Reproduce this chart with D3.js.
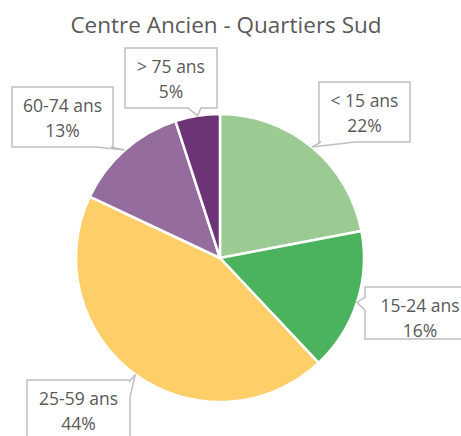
<!DOCTYPE html>
<html>
<head>
<meta charset="utf-8">
<script src="https://cdn.jsdelivr.net/npm/d3@7"></script>
<style>
  body { margin: 0; background: #fff; }
  svg { display: block; }
</style>
</head>
<body>
<div id="chart"></div>
<script>
// data
const title = "Centre Ancien - Quartiers Sud";
const categories = ["< 15 ans", "15-24 ans", "25-59 ans", "60-74 ans", "> 75 ans"];
const values = [22, 16, 44, 13, 5];
const colors = ["#9bcb93", "#4bb35e", "#fece69", "#946d9e", "#6e3276"];

// callout boxes: [x, y, w, h], side where the pointer leaves, base span on that side
const callouts = [
  { box: [319, 82, 91, 60], side: "bottom", base: [321, 355] },
  { box: [365, 287, 110, 52], side: "left", base: [297, 310] },
  { box: [27, 380, 103, 70], side: "right", base: [381, 397] },
  { box: [12, 87, 101, 60], side: "bottom", base: [96, 111] },
  { box: [125, 48, 92, 60], side: "bottom", base: [188, 201] }
];

function chartConfig() {
  let config = {
    width: 461,
    height: 436,
    cx: 220,
    cy: 258,
    radius: 144,
    textColor: "#595959",
    boxColor: "#bfbfbf",
    font: "'Open Sans', sans-serif"
  };
  config.svg = d3.select("#chart").append("svg")
    .attr("width", config.width)
    .attr("height", config.height);
  return config;
}

let cfg = chartConfig();

cfg.svg.append("text")
  .attr("x", 226)
  .attr("y", 33)
  .attr("text-anchor", "middle")
  .attr("font-family", cfg.font)
  .attr("font-size", "22.5px")
  .attr("fill", cfg.textColor)
  .text(title);

let pie = d3.pie().sort(null).value(d => d)(values);
let arc = d3.arc().innerRadius(0).outerRadius(cfg.radius);
let rim = d3.arc().innerRadius(cfg.radius).outerRadius(cfg.radius);

let g = cfg.svg.append("g")
  .attr("transform", `translate(${cfg.cx},${cfg.cy})`);

g.selectAll("path.slice")
  .data(pie)
  .enter()
  .append("path")
  .attr("class", "slice")
  .attr("d", arc)
  .attr("fill", (d, i) => colors[i])
  .attr("stroke", "#fff")
  .attr("stroke-width", 2.5)
  .attr("stroke-linejoin", "round");

// box outline with the pointer wedge built into one of its sides
function calloutPath(c, tip) {
  let [x, y, w, h] = c.box;
  let [a, b] = c.base;
  let p = d3.path();
  p.moveTo(x, y);
  if (c.side === "top") { p.lineTo(a, y); p.lineTo(tip[0], tip[1]); p.lineTo(b, y); }
  p.lineTo(x + w, y);
  if (c.side === "right") { p.lineTo(x + w, a); p.lineTo(tip[0], tip[1]); p.lineTo(x + w, b); }
  p.lineTo(x + w, y + h);
  if (c.side === "bottom") { p.lineTo(b, y + h); p.lineTo(tip[0], tip[1]); p.lineTo(a, y + h); }
  p.lineTo(x, y + h);
  if (c.side === "left") { p.lineTo(x, b); p.lineTo(tip[0], tip[1]); p.lineTo(x, a); }
  p.closePath();
  return p.toString();
}

let labels = cfg.svg.selectAll("g.label")
  .data(pie)
  .enter()
  .append("g")
  .attr("class", "label");

labels.append("path")
  .attr("d", (d, i) => {
    let t = rim.centroid(d);
    return calloutPath(callouts[i], [t[0] + cfg.cx, t[1] + cfg.cy]);
  })
  .attr("fill", "#fff")
  .attr("stroke", cfg.boxColor)
  .attr("stroke-width", 1.5)
  .attr("stroke-linejoin", "miter");

let txt = labels.append("text")
  .attr("text-anchor", "middle")
  .attr("font-family", cfg.font)
  .attr("font-size", "17.5px")
  .attr("fill", cfg.textColor);

txt.append("tspan")
  .attr("x", (d, i) => callouts[i].box[0] + callouts[i].box[2] / 2)
  .attr("y", (d, i) => callouts[i].box[1] + 25)
  .text((d, i) => categories[i]);

txt.append("tspan")
  .attr("x", (d, i) => callouts[i].box[0] + callouts[i].box[2] / 2)
  .attr("y", (d, i) => callouts[i].box[1] + 50)
  .text(d => d3.format(".0%")(d.value / 100));
</script>
</body>
</html>
